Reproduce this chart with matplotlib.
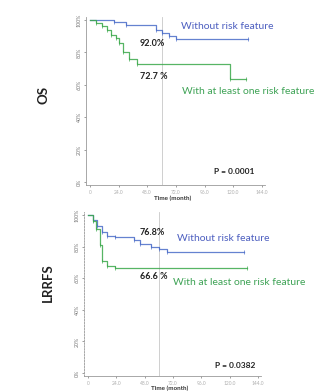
import matplotlib
matplotlib.use("Agg")
import matplotlib.pyplot as plt

plt.rcParams['font.family'] = ['Lato', 'DejaVu Sans']

# OS curves (time in months, survival %)
os_blue_t = [0, 20, 30, 55, 60, 66, 72, 132]
os_blue_s = [100, 98.5, 97, 94, 92, 90, 88, 88]
os_green_t = [0, 5, 10, 14, 18, 22, 24, 28, 33, 39, 117, 131]
os_green_s = [100, 98, 96, 94, 91, 89, 86, 80, 76, 72.7, 63.6, 63.6]

# LRRFS curves
lr_blue_t = [0, 4, 8, 12, 16, 23, 39, 44, 53, 60, 67, 132]
lr_blue_s = [100, 97, 93, 89, 87, 86, 84, 82, 80, 78.5, 76.8, 76.8]
lr_green_t = [0, 4, 7, 10, 12, 16, 23, 135]
lr_green_s = [100, 96, 91, 81, 71, 67.5, 66.6, 66.6]

xticks = [0, 24, 48, 72, 96, 120, 144]
xticklabels = ["0", "24.0", "48.0", "72.0", "96.0", "120.0", "144.0"]
yticks = [0, 20, 40, 60, 80, 100]
yticklabels = ["0%", "20%", "40%", "60%", "80%", "100%"]

BLUE = "#4a6cc8"
GREEN = "#3aa84a"
BLUE_TXT = "#4d5fc0"
GREEN_TXT = "#3fa356"

fig = plt.figure(figsize=(3.34, 3.92), dpi=100)
ax1 = fig.add_axes([0.2587, 0.5276, 0.536, 0.4296])
ax2 = fig.add_axes([0.2529, 0.0404, 0.530, 0.419])


def style(ax):
    ax.set_xlim(-3, 147)
    ax.set_ylim(-2, 102)
    for s in ["top", "right"]:
        ax.spines[s].set_visible(False)
    for s in ["left", "bottom"]:
        ax.spines[s].set_color("#9a9a9a")
        ax.spines[s].set_linewidth(0.6)
    ax.set_xticks(xticks)
    ax.set_xticklabels(xticklabels, fontsize=3.5, color="#b0b0b0")
    ax.set_yticks(yticks)
    ax.set_yticklabels(yticklabels, fontsize=3.8, color="#777777",
                       rotation=90, va="center")
    ax.tick_params(length=1.5, width=0.5, color="#777777", pad=2)
    ax.axvline(60, color="#c8c8c8", lw=0.6, zorder=0)


def curve(ax, t, s, color):
    ax.step(t, s, where="post", color=color, lw=0.9, alpha=0.85)
    ax.plot(t[1:], s[1:], ls="none", marker="|", ms=2.5, mew=0.6,
            color=color, alpha=0.8)


style(ax1)
curve(ax1, os_blue_t, os_blue_s, BLUE)
curve(ax1, os_green_t, os_green_s, GREEN)
ax1.text(76, 95.7, "Without risk feature", color=BLUE_TXT, fontsize=7.5,
         va="center")
ax1.text(77, 55.6, "With at least one risk feature", color=GREEN_TXT,
         fontsize=7.5, va="center")
ax1.text(52, 85.8, "92.0%", fontsize=6.5, fontweight="bold", ha="center",
         va="center", color="#222222")
ax1.text(53.6, 65.4, "72.7 %", fontsize=6.5, fontweight="bold", ha="center",
         va="center", color="#222222")
ax1.text(121, 6.2, "P = 0.0001", fontsize=6, fontweight="bold", ha="center",
         va="center", color="#222222")

style(ax2)
ax2.spines["left"].set_linestyle((0, (2, 1.5)))
curve(ax2, lr_blue_t, lr_blue_s, BLUE)
curve(ax2, lr_green_t, lr_green_s, GREEN)
ax2.text(75, 85.4, "Without risk feature", color=BLUE_TXT, fontsize=7.5,
         va="center")
ax2.text(72, 57, "With at least one risk feature", color=GREEN_TXT,
         fontsize=7.5, va="center")
ax2.text(54, 89, "76.8%", fontsize=6.5, fontweight="bold", ha="center",
         va="center", color="#222222")
ax2.text(56, 60.8, "66.6 %", fontsize=6.5, fontweight="bold", ha="center",
         va="center", color="#222222")
ax2.text(124.6, 5, "P = 0.0382", fontsize=6, fontweight="bold", ha="center",
         va="center", color="#222222")

fig.text(0.129, 0.758, "OS", fontsize=9.5, fontweight="bold", rotation=90,
         ha="center", va="center", color="#222222")
fig.text(0.144, 0.278, "LRRFS", fontsize=9.5, fontweight="bold", rotation=90,
         ha="center", va="center", color="#222222")
fig.text(0.518, 0.495, "Time (month)", fontsize=4.5, fontweight="bold",
         ha="center", va="center", color="#333333")
fig.text(0.509, 0.010, "Time (month)", fontsize=4.5, fontweight="bold",
         ha="center", va="center", color="#333333")

fig.savefig("out.png", dpi=100)
